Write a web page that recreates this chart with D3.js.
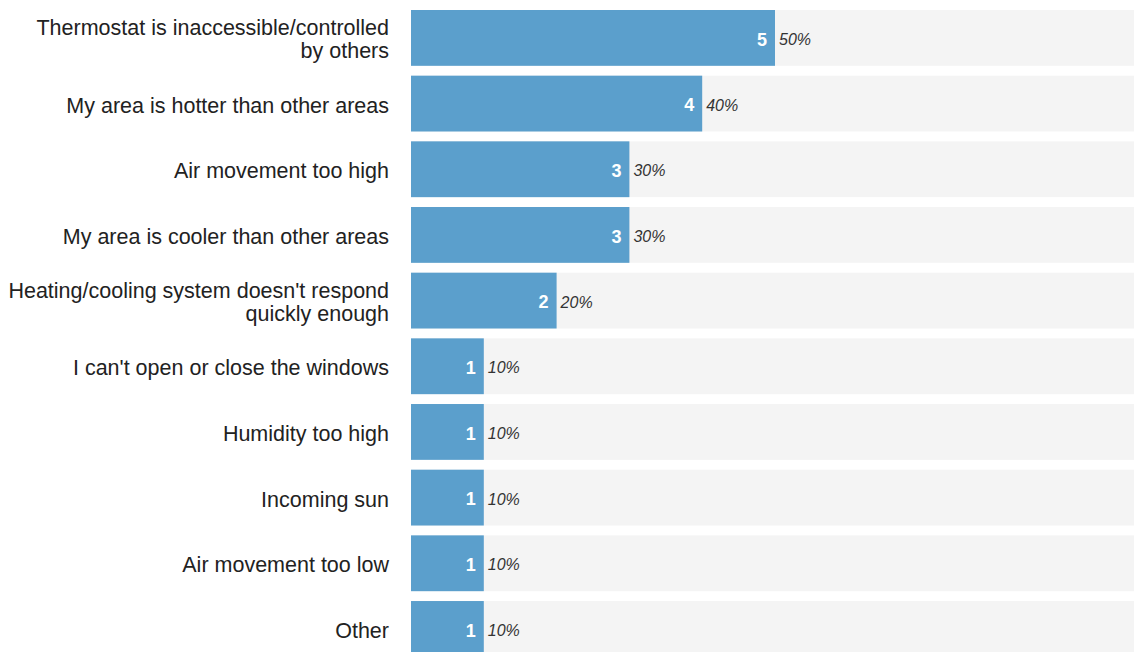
<!DOCTYPE html>
<html><head><meta charset="utf-8">
<script src="https://cdn.jsdelivr.net/npm/d3@7"></script>
<style>body{margin:0;background:#fff}svg{display:block}</style>
</head><body>
<script>
const categories = [
  "Thermostat is inaccessible/controlled|by others",
  "My area is hotter than other areas",
  "Air movement too high",
  "My area is cooler than other areas",
  "Heating/cooling system doesn't respond|quickly enough",
  "I can't open or close the windows",
  "Humidity too high",
  "Incoming sun",
  "Air movement too low",
  "Other"
];
const counts = [5, 4, 3, 3, 2, 1, 1, 1, 1, 1];
const percents = ["50%", "40%", "30%", "30%", "20%", "10%", "10%", "10%", "10%", "10%"];
const total = 10;

const W = 1134, H = 652;
const svg = d3.select("body").append("svg").attr("width", W).attr("height", H);

const x = d3.scaleLinear().domain([0, total]).range([411, 1139]);
const y = d3.scaleBand().domain(categories).range([10, 10 + 65.67 * (categories.length - 0.15)])
  .paddingInner(0.15).paddingOuter(0);

const g = svg.append("g");
const rows = g.selectAll("g.row").data(categories).join("g").attr("class", "row");

rows.append("rect").attr("x", x(0)).attr("y", d => y(d))
  .attr("width", x(total) - x(0)).attr("height", y.bandwidth()).attr("fill", "#f4f4f4");

rows.append("rect").attr("x", x(0)).attr("y", d => y(d))
  .attr("width", (d, i) => x(counts[i]) - x(0)).attr("height", y.bandwidth()).attr("fill", "#5b9fcc");

rows.append("text").attr("x", (d, i) => x(counts[i]) - 8).attr("y", d => y(d) + y.bandwidth() / 2 + 1.5)
  .attr("dy", "0.35em").attr("text-anchor", "end")
  .attr("font-family", "Liberation Sans, Arial, sans-serif").attr("font-weight", "bold")
  .attr("font-size", 18).attr("fill", "#fff").text((d, i) => counts[i]);

rows.append("text").attr("x", (d, i) => x(counts[i]) + 4).attr("y", d => y(d) + y.bandwidth() / 2 + 1.5)
  .attr("dy", "0.35em").attr("text-anchor", "start")
  .attr("font-family", "Liberation Sans, Arial, sans-serif").attr("font-style", "italic")
  .attr("font-size", 16).attr("fill", "#333").text((d, i) => percents[i]);

rows.each(function(d) {
  const lines = d.split("|");
  const cy = y(d) + y.bandwidth() / 2 + 1.5;
  const lh = 23;
  const t = d3.select(this).append("text").attr("text-anchor", "end")
    .attr("font-family", "Liberation Sans, Arial, sans-serif").attr("font-size", 21.5).attr("fill", "#222");
  lines.forEach((l, k) => {
    t.append("tspan").attr("x", 389).attr("y", cy + (k - (lines.length - 1) / 2) * lh).attr("dy", "0.35em").text(l);
  });
});
</script>
</body></html>
